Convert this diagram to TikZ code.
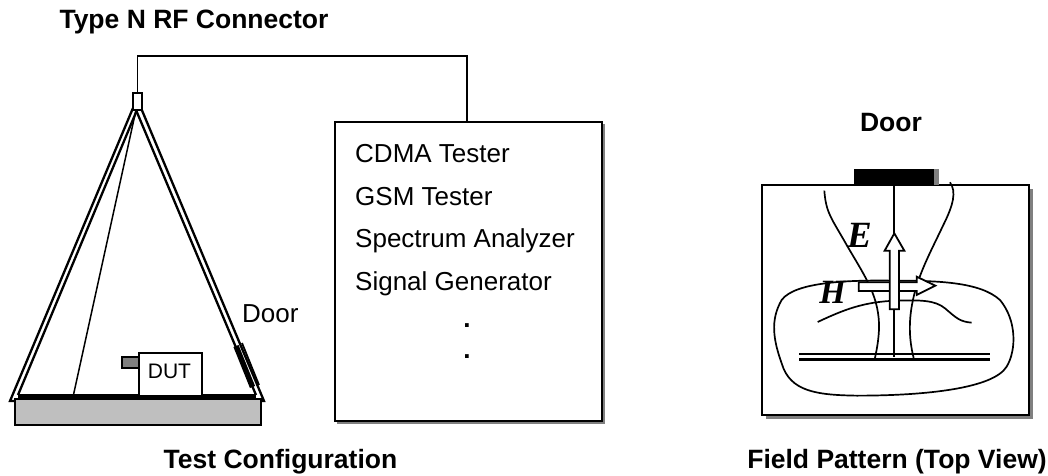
\documentclass[tikz,border=0pt]{standalone}
\usepackage{fontspec}
\setmainfont{Liberation Sans}
\newfontfamily\serifbi{Liberation Serif}[BoldItalicFont={Liberation Serif Bold Italic}]
\definecolor{shadowgray}{gray}{0.5}
\definecolor{platgray}{gray}{0.75}
\tikzset{
 title/.style={font=\bfseries\fontsize{26.5}{28}\selectfont,anchor=base,inner sep=0pt},
 lab/.style={font=\fontsize{26}{28}\selectfont,anchor=base west,inner sep=0pt},
 dotl/.style={font=\bfseries\fontsize{26}{28}\selectfont,anchor=base,inner sep=0pt},
 wall/.style={line width=2.3pt,draw=black},
 curve/.style={line width=1.7pt,draw=black},
 hollow/.style={line width=1.8pt,draw=black,fill=white,line join=miter}
}
\begin{document}
\begin{tikzpicture}[x=1pt,y=-1pt]
\useasboundingbox (0,0) rectangle (1048,475);
% left chamber
\draw[wall] (133,108) -- (10,401) -- (264,401) -- (141,108);
\draw[wall] (137,110) -- (18,395);
\draw[wall] (136,110) -- (256,395);
\draw[line width=3.4pt] (18,396) -- (256,396);
\draw[line width=1.5pt] (136,110) -- (73,397);
% door of the chamber
\draw[line width=5.5pt] (236,346) -- (252.5,387);
\draw[line width=1.8pt] (242,343) -- (259,385);
\node[draw=black,line width=1.7pt,fill=platgray,minimum width=246pt,minimum height=26pt,anchor=north west,inner sep=0pt] (plat) at (14,398) {};
\node[draw=black,line width=1.5pt,fill=shadowgray,minimum width=17pt,minimum height=11pt,anchor=north west,inner sep=0pt] (tab) at (121,356) {};
\node[draw=black,line width=1.5pt,fill=white,minimum width=63pt,minimum height=43pt,anchor=north west,inner sep=0pt] (dutbox) at (138,352) {};
\node[font=\fontsize{21}{23}\selectfont,anchor=base,inner sep=0pt] (dut) at (169.5,378) {DUT};
\node[draw=black,line width=1.8pt,fill=white,minimum width=9pt,minimum height=17pt,anchor=north west,inner sep=0pt] (conn) at (132,92) {};
% instrument box
\fill[shadowgray] (337,124) rectangle (605,424);
\node[draw=black,line width=1.6pt,fill=white,minimum width=267pt,minimum height=299pt,anchor=north west,inner sep=0pt] (tester) at (334,121) {};
\coordinate (wiretop) at (467,121);
\draw[line width=1.5pt] (conn.north) |- (467,56) -- (wiretop);
\node[lab] (t1) at (355,162) {CDMA Tester};
\node[lab] (t2) at (355,205) {GSM Tester};
\node[lab] (t3) at (355,247) {Spectrum Analyzer};
\node[lab] (t4) at (355,290) {Signal Generator};
\node[dotl] (d1) at (467,327) {.};
\node[dotl] (d2) at (467,358) {.};
\node[lab] (door1) at (242,322) {Door};
\node[title] (cap1) at (194,28) {Type N RF Connector};
\node[title] (cap2) at (280.5,468) {Test Configuration};
\node[title] (cap3) at (891,131) {Door};
\node[title] (cap4) at (897,468) {Field Pattern (Top View)};
% right box
\fill[shadowgray] (766,189) rectangle (1033,419);
\node[draw=black,line width=1.6pt,fill=white,minimum width=267pt,minimum height=230pt,anchor=north west,inner sep=0pt] (field) at (761,184) {};
\fill[shadowgray] (854,169) rectangle (939,185);
\node[fill=black,minimum width=80pt,minimum height=16pt,anchor=north west,inner sep=0pt] (fdoor) at (854,169) {};
\begin{scope}[shift={(740,150)},x=0.3333pt,y=-0.3333pt]
 \draw[curve] (463,103) -- (463,622);
 \draw[line width=2.4pt] (177,612) -- (750,612) (177,628) -- (750,628);
 % E field lines
 \draw[curve] (253,122) .. controls (258,190) and (275,205) .. (320,285) .. controls (375,380) and (420,440) .. (417,540) .. controls (415,575) and (410,600) .. (405,624);
 \draw[curve] (630,97) .. controls (650,125) and (640,165) .. (610,225) .. controls (570,310) and (530,380) .. (515,470) .. controls (505,530) and (510,580) .. (521,624);
 % H field lines
 \draw[curve] (350,737) .. controls (230,735) and (150,725) .. (125,640) .. controls (100,570) and (90,510) .. (125,450) .. controls (165,395) and (330,390) .. (460,392) .. controls (590,392) and (720,395) .. (780,450) .. controls (830,510) and (830,600) .. (800,650) .. controls (760,715) and (560,737) .. (350,737);
 \draw[curve] (233,516) .. controls (310,480) and (370,455) .. (470,452) .. controls (540,450) and (585,450) .. (615,475) .. controls (650,505) and (660,515) .. (695,518);
 % H arrow
 \draw[hollow] (356,397) -- (530,397) -- (530,380) -- (586,407) -- (530,435) -- (530,423) -- (356,423) -- cycle;
 % E arrow
 \draw[hollow] (449,478) -- (449,302) -- (434,302) -- (463,250) -- (493,302) -- (477,302) -- (477,478) -- cycle;
\end{scope}
\node[font=\serifbi\bfseries\itshape\fontsize{37}{39}\selectfont,anchor=base,inner sep=0pt] (lE) at (859.5,247) {E};
\node[font=\serifbi\bfseries\itshape\fontsize{34}{36}\selectfont,anchor=base,inner sep=0pt] (lH) at (832.5,303) {H};
\end{tikzpicture}
\end{document}
